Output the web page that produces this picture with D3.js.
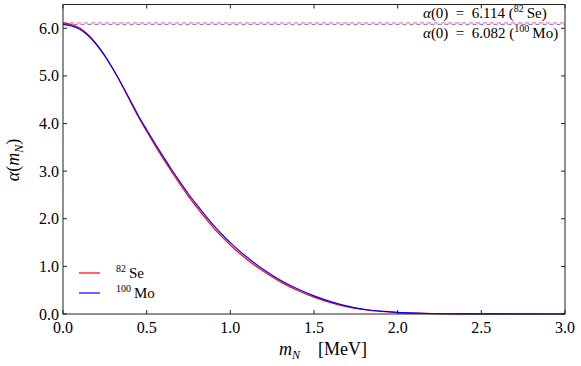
<!DOCTYPE html>
<html lang="en">
<head>
<meta charset="UTF-8">
<title>alpha(mN)</title>
<style>
  body { margin: 0; padding: 0; background: #fff; }
  svg { display: block; }
  text { font-family: "Liberation Serif", "DejaVu Serif", serif; fill: #000; }
</style>
</head>
<body>
<script src="https://d3js.org/d3.v7.min.js"></script>
<script>
const width = 581
const height = 366
const margin = { top: 4.5, right: 16, bottom: 52, left: 63 }

// m_N in MeV
const mN = [0, 0.05, 0.1, 0.15, 0.2, 0.25, 0.3, 0.35, 0.4, 0.45, 0.5, 0.55, 0.6, 0.65, 0.7, 0.75,
  0.8, 0.85, 0.9, 0.95, 1.0, 1.1, 1.2, 1.3, 1.4, 1.5, 1.6, 1.7, 1.8, 1.9, 2.0, 2.1, 2.2, 2.4, 2.6, 3.0]
const alphaSe = [6.114, 6.08, 6.005, 5.868, 5.67, 5.423, 5.135, 4.818, 4.48, 4.143, 3.837, 3.54, 3.255, 2.985, 2.72, 2.47,
  2.24, 2.02, 1.81, 1.62, 1.45, 1.145, 0.89, 0.675, 0.50, 0.355, 0.24, 0.15, 0.09, 0.053, 0.03, 0.017, 0.009, 0.0025, 0.0008, 0]
const alphaMo = [6.082, 6.05, 5.98, 5.85, 5.66, 5.42, 5.14, 4.83, 4.50, 4.17, 3.87, 3.58, 3.30, 3.03, 2.77, 2.52,
  2.29, 2.07, 1.86, 1.67, 1.50, 1.19, 0.93, 0.71, 0.53, 0.38, 0.26, 0.165, 0.10, 0.06, 0.035, 0.02, 0.011, 0.003, 0.001, 0]
const alpha0 = { Se: 6.114, Mo: 6.082 }
const xTicks = [0, 0.5, 1.0, 1.5, 2.0, 2.5, 3.0]
const yTicks = [0, 1, 2, 3, 4, 5, 6]

const svg = d3.select('body').append('svg')
  .attr('width', width)
  .attr('height', height)

const x = d3.scaleLinear().domain([0, 3]).range([margin.left, width - margin.right])
const y = d3.scaleLinear().domain([0, 6.5]).range([height - margin.bottom, margin.top])

const line = ys => d3.line()
  .x((d, i) => x(mN[i]))
  .y((d, i) => y(ys[i]))
  .curve(d3.curveMonotoneX)(ys)

// dashed reference lines for alpha(0)
svg.append('line')
  .attr('x1', x(0)).attr('x2', x(3))
  .attr('y1', y(alpha0.Se)).attr('y2', y(alpha0.Se))
  .attr('stroke', 'red').attr('stroke-opacity', 0.5)
  .attr('stroke-width', 1.2).attr('stroke-dasharray', '4,3')
svg.append('line')
  .attr('x1', x(0)).attr('x2', x(3))
  .attr('y1', y(alpha0.Mo)).attr('y2', y(alpha0.Mo))
  .attr('stroke', 'blue').attr('stroke-opacity', 0.5)
  .attr('stroke-width', 1.2).attr('stroke-dasharray', '4,3')
  .attr('stroke-dashoffset', 3.5)

svg.append('path').attr('d', line(alphaSe))
  .attr('fill', 'none').attr('stroke', 'red').attr('stroke-width', 1.2)
svg.append('path').attr('d', line(alphaMo))
  .attr('fill', 'none').attr('stroke', 'blue').attr('stroke-width', 1.2)

// frame
const x0 = x(0), x1 = x(3), y0 = y(0), y1 = y(6.5)
svg.append('rect')
  .attr('x', x0).attr('y', y1).attr('width', x1 - x0).attr('height', y0 - y1)
  .attr('fill', 'none').attr('stroke', '#222').attr('stroke-width', 1)

// inward ticks, all four sides
const tl = 4
const ticks = svg.append('g').attr('stroke', '#222').attr('stroke-width', 1)
xTicks.forEach(t => {
  ticks.append('line').attr('x1', x(t)).attr('x2', x(t)).attr('y1', y0).attr('y2', y0 - tl)
  ticks.append('line').attr('x1', x(t)).attr('x2', x(t)).attr('y1', y1).attr('y2', y1 + tl)
})
yTicks.forEach(t => {
  ticks.append('line').attr('x1', x0).attr('x2', x0 + tl).attr('y1', y(t)).attr('y2', y(t))
  ticks.append('line').attr('x1', x1).attr('x2', x1 - tl).attr('y1', y(t)).attr('y2', y(t))
})

svg.append('g').selectAll('text').data(xTicks).join('text')
  .attr('x', d => x(d)).attr('y', y0 + 19)
  .attr('text-anchor', 'middle').attr('font-size', 16)
  .text(d => d.toFixed(1))
svg.append('g').selectAll('text').data(yTicks).join('text')
  .attr('x', x0 - 4).attr('y', d => y(d) + 5.5)
  .attr('text-anchor', 'end').attr('font-size', 16)
  .text(d => d.toFixed(1))

// axis labels
const xl = svg.append('text').attr('x', 323).attr('y', 355)
  .attr('text-anchor', 'middle').attr('font-size', 18)
xl.append('tspan').attr('font-style', 'italic').text('m')
xl.append('tspan').attr('font-style', 'italic').attr('font-size', 12).attr('dy', 4).text('N')
xl.append('tspan').attr('dy', -4).text('\u2003[MeV]')

const yl = svg.append('text')
  .attr('transform', 'translate(19,160) rotate(-90)')
  .attr('text-anchor', 'middle').attr('font-size', 18)
yl.append('tspan').attr('font-style', 'italic').text('\u03b1')
yl.append('tspan').text('(')
yl.append('tspan').attr('font-style', 'italic').text('m')
yl.append('tspan').attr('font-style', 'italic').attr('font-size', 12).attr('dy', 4).text('N')
yl.append('tspan').attr('dy', -4).text(')')

// annotations
function annot(yy, val, mass, sym) {
  const t = svg.append('text').attr('x', 423).attr('y', yy).attr('font-size', 15)
  t.append('tspan').attr('font-style', 'italic').text('\u03b1')
  t.append('tspan').text('(0)\u2002=\u2002' + val.toFixed(3) + ' (')
  t.append('tspan').attr('font-size', 10).attr('dy', -6).text(mass)
  t.append('tspan').attr('dy', 6).text('\u2009' + sym + ')')
}
annot(18, alpha0.Se, '82', 'Se')
annot(38, alpha0.Mo, '100', 'Mo')

// legend
const legend = [
  { mass: '82', sym: 'Se', color: 'red' },
  { mass: '100', sym: 'Mo', color: 'blue' }
]
legend.forEach((d, i) => {
  const ly = 273 + i * 20
  svg.append('line').attr('x1', 79).attr('x2', 100).attr('y1', ly).attr('y2', ly)
    .attr('stroke', d.color).attr('stroke-width', 1.2)
  const t = svg.append('text').attr('x', 116).attr('y', ly + 5).attr('font-size', 15)
  t.append('tspan').attr('font-size', 10).attr('dy', -6).text(d.mass)
  t.append('tspan').attr('dy', 6).text('\u2009' + d.sym)
})
</script>
</body>
</html>
